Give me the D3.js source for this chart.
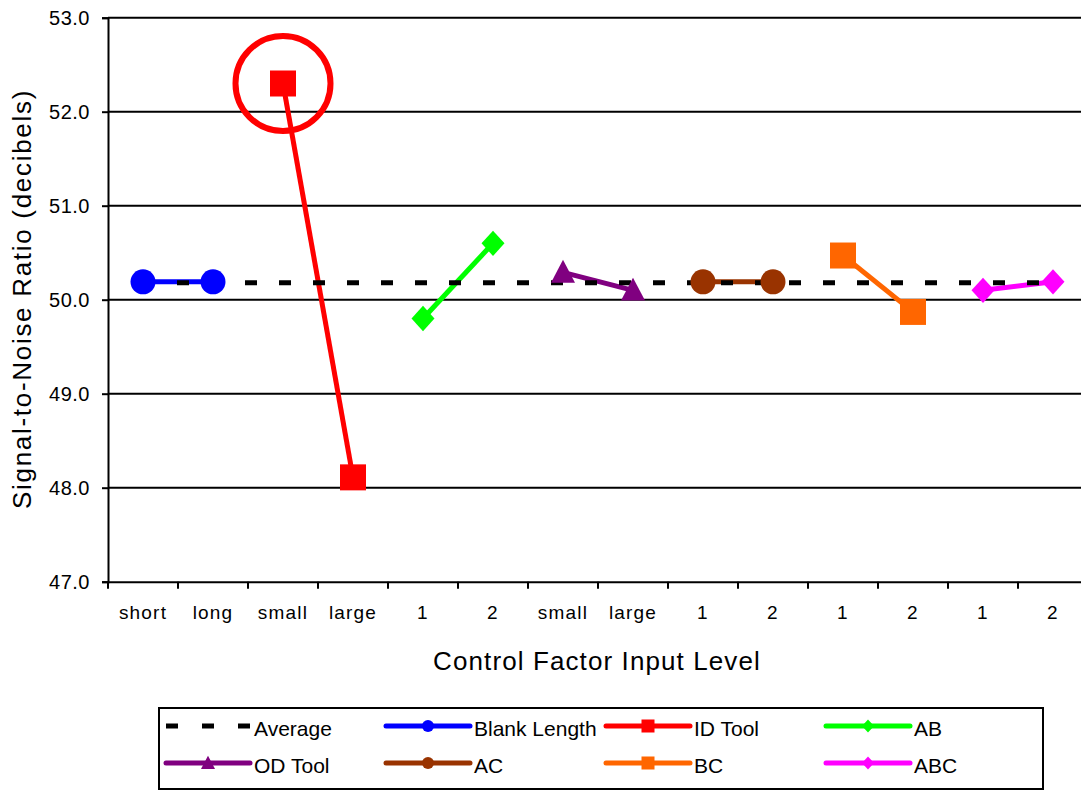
<!DOCTYPE html>
<html><head><meta charset="utf-8">
<script src="https://cdn.jsdelivr.net/npm/d3@7"></script>
<style>
html,body{margin:0;padding:0;background:#fff;}
svg{display:block;font-family:"Liberation Sans",Arial,sans-serif;}
</style></head>
<body>
<svg id="chart" width="1081" height="790"></svg>
<script>
// ---- data ----
const categories = ["short","long","small","large","1","2","small","large","1","2","1","2","1","2"];
const yTicks = [47,48,49,50,51,52,53];
const averageValue = 50.18;
const blankLength = [50.19, 50.19];
const idTool = [52.30, 48.11];
const ab = [49.80, 50.60];
const odTool = [50.29, 50.10];
const ac = [50.19, 50.19];
const bc = [50.47, 49.87];
const abc = [50.10, 50.19];
const seriesNames = ["Blank Length","ID Tool","AB","OD Tool","AC","BC","ABC"];
const seriesValues = [blankLength, idTool, ab, odTool, ac, bc, abc];
const seriesStart = [0, 2, 4, 6, 8, 10, 12];
const seriesColors = ["#0000FF","#FF0000","#00FF00","#800080","#993300","#FF6600","#FF00FF"];
const seriesMarkers = ["circle","square","diamond","triangle","circle","square","diamond"];
const highlight = {series: "ID Tool", index: 0};

// ---- layout ----
const svg = d3.select("#chart");
const pLeft = 108, pRight = 1088, pTop = 17.7, pBottom = 581.7;
const x = d3.scaleBand().domain(d3.range(categories.length)).range([pLeft, pRight]).padding(0);
const y = d3.scaleLinear().domain([47, 53]).range([pBottom, pTop]);
const cx = i => x(i) + x.bandwidth() / 2;

// gridlines
svg.append("g").selectAll("line").data(yTicks.filter(d => d > 47)).join("line")
  .attr("x1", pLeft).attr("x2", pRight).attr("y1", d => y(d)).attr("y2", d => y(d))
  .attr("stroke", "#000").attr("stroke-width", 2);

// y axis
const yAxis = svg.append("g").attr("transform", `translate(${pLeft},0)`)
  .call(d3.axisLeft(y).tickValues(yTicks).tickFormat(d3.format(".1f")).tickSizeOuter(0).tickSize(6).tickPadding(12));
yAxis.attr("font-family", null).attr("font-size", null);
yAxis.select(".domain").attr("stroke", "#000").attr("stroke-width", 2);
yAxis.selectAll(".tick line").attr("stroke", "#000").attr("stroke-width", 2);
yAxis.selectAll(".tick text").style("font-size", "20px").attr("fill", "#000")
  .attr("letter-spacing", 0.5)
  .style("font-family", "'Liberation Sans', Arial, sans-serif").attr("dy", "0.34em");

// x axis
const xAxis = svg.append("g").attr("transform", `translate(0,${pBottom})`)
  .call(d3.axisBottom(x).tickFormat(i => categories[i]).tickSize(0).tickPadding(24).tickSizeOuter(0));
xAxis.attr("font-family", null).attr("font-size", null);
xAxis.select(".domain").attr("stroke", "#000").attr("stroke-width", 2);
xAxis.selectAll(".tick text").style("font-size", "19px").attr("fill", "#000")
  .attr("letter-spacing", 1.2)
  .style("font-family", "'Liberation Sans', Arial, sans-serif");
// category boundary ticks
svg.append("g").selectAll("line").data(d3.range(categories.length + 1)).join("line")
  .attr("x1", i => pLeft + i * x.bandwidth()).attr("x2", i => pLeft + i * x.bandwidth())
  .attr("y1", pBottom).attr("y2", pBottom + 7).attr("stroke", "#000").attr("stroke-width", 2);

// axis titles
svg.append("text").attr("x", 597).attr("y", 670).attr("text-anchor", "middle")
  .style("font-size", "26px").attr("letter-spacing", 1.1).text("Control Factor Input Level");
svg.append("text").attr("transform", "translate(31,299) rotate(-90)").attr("text-anchor", "middle")
  .style("font-size", "26px").attr("letter-spacing", 1.7).text("Signal-to-Noise Ratio (decibels)");

// marker drawing helper
function marker(g, type, color, s) {
  if (type === "circle") return g.append("circle").attr("r", s).attr("fill", color);
  if (type === "square") return g.append("rect").attr("x", -s).attr("y", -s).attr("width", 2*s).attr("height", 2*s).attr("fill", color);
  if (type === "diamond") return g.append("path").attr("d", `M0,${-s*1.1}L${s},0L0,${s*1.1}L${-s},0Z`).attr("fill", color);
  if (type === "triangle") return g.append("path").attr("d", `M0,${-s*1.05}L${s},${s*0.85}L${-s},${s*0.85}Z`).attr("fill", color);
}
const markerSize = {circle: 12.5, square: 13, diamond: 11.5, triangle: 12};

const plot = svg.append("g");
const line = d3.line().x(d => cx(d.i)).y(d => y(d.v));
const seriesData = seriesNames.map((n, k) => ({
  name: n, color: seriesColors[k], marker: seriesMarkers[k],
  pts: seriesValues[k].map((v, j) => ({i: seriesStart[k] + j, v}))
}));

// series lines
plot.selectAll("path.series").data(seriesData).join("path").attr("class","series")
  .attr("d", d => line(d.pts)).attr("fill","none").attr("stroke", d => d.color)
  .attr("stroke-width", 5);

// average line
plot.append("line").attr("x1", cx(0)).attr("x2", cx(categories.length - 1))
  .attr("y1", y(averageValue)).attr("y2", y(averageValue))
  .attr("stroke", "#000").attr("stroke-width", 5).attr("stroke-dasharray", "12,22");

// markers
seriesData.forEach(s => {
  s.pts.forEach(p => {
    const g = plot.append("g").attr("transform", `translate(${cx(p.i)},${y(p.v)})`);
    marker(g, s.marker, s.color, markerSize[s.marker]);
  });
});

// highlight circle
const hs = seriesData.find(s => s.name === highlight.series).pts[highlight.index];
plot.append("circle").attr("cx", cx(hs.i)).attr("cy", y(hs.v)).attr("r", 47.5)
  .attr("fill","none").attr("stroke","#FF0000").attr("stroke-width", 6);

// legend
const lg = svg.append("g");
lg.append("rect").attr("x", 159).attr("y", 708).attr("width", 884).attr("height", 81)
  .attr("fill", "#fff").attr("stroke", "#000").attr("stroke-width", 2);
const legendItems = [{name: "Average", color: "#000", marker: null, dash: true}]
  .concat(seriesData.map(s => ({name: s.name, color: s.color, marker: s.marker})));
const colX = [166, 386, 606, 826], rowY = [726, 763];
const legendMarkerSize = {circle: 6, square: 6.5, diamond: 6, triangle: 7};
legendItems.forEach((it, k) => {
  const lx = colX[k % 4], ly = rowY[Math.floor(k / 4)];
  const g = lg.append("g");
  const l = g.append("line").attr("x1", lx).attr("x2", lx + 84).attr("y1", ly).attr("y2", ly)
    .attr("stroke", it.color).attr("stroke-width", 5);
  if (it.dash) l.attr("stroke-dasharray", "12,24");
  else l.attr("stroke-linecap", "round");
  if (it.marker) {
    const mg = g.append("g").attr("transform", `translate(${lx + 42},${ly})`);
    marker(mg, it.marker, it.color, legendMarkerSize[it.marker]);
  }
  g.append("text").attr("x", lx + 88).attr("y", ly + 10).style("font-size", "21px").attr("fill", "#000").text(it.name);
});
</script>
</body></html>
